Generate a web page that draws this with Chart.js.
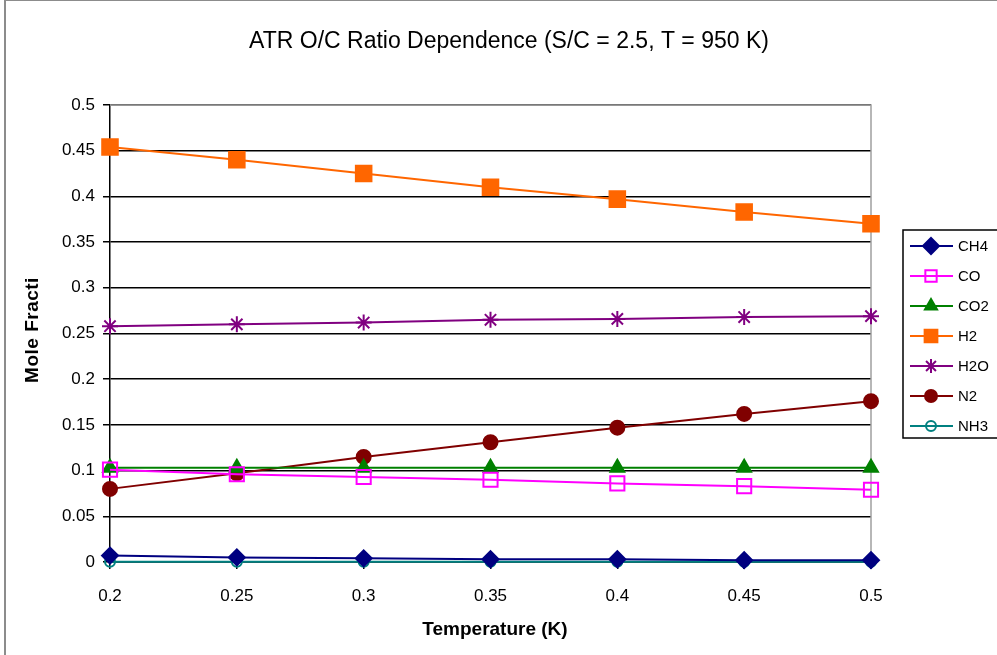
<!DOCTYPE html>
<html>
<head>
<meta charset="utf-8">
<script src="https://cdn.jsdelivr.net/npm/chart.js@4"></script>
<style>
  html, body { margin: 0; padding: 0; background: #ffffff; }
  #wrap { width: 997px; height: 655px; }
</style>
</head>
<body>
<div id="wrap"><canvas id="chart" width="997" height="655"></canvas></div>
<script>
const ocRatio = [0.2, 0.25, 0.3, 0.35, 0.4, 0.45, 0.5];
const xTickLabels = ["0.2", "0.25", "0.3", "0.35", "0.4", "0.45", "0.5"];
const yTickLabels = ["0", "0.05", "0.1", "0.15", "0.2", "0.25", "0.3", "0.35", "0.4", "0.45", "0.5"];

const species = ["CH4", "CO", "CO2", "H2", "H2O", "N2", "NH3"];
const ch4 = [0.007, 0.005, 0.004, 0.003, 0.003, 0.002, 0.002];
const co = [0.101, 0.096, 0.093, 0.090, 0.086, 0.083, 0.079];
const co2 = [0.103, 0.103, 0.103, 0.103, 0.103, 0.103, 0.103];
const h2 = [0.454, 0.440, 0.425, 0.410, 0.397, 0.383, 0.370];
const h2o = [0.258, 0.260, 0.262, 0.265, 0.266, 0.268, 0.269];
const n2 = [0.080, 0.097, 0.115, 0.131, 0.147, 0.162, 0.176];
const nh3 = [0.0002, 0.0002, 0.0002, 0.0002, 0.0002, 0.0002, 0.0002];

const FONT = "'Liberation Sans', Arial, sans-serif";

function pts(values) {
  return values.map((v, i) => ({ x: ocRatio[i], y: v }));
}

// r = point radius on the plot, lr = radius in the legend
const seriesStyle = [
  { data: ch4, color: "#000080", fill: "#000080", style: "rectRot", r: 8, lr: 8 },
  { data: co, color: "#ff00ff", fill: "rgba(255,255,255,0)", style: "rect", r: 10, lr: 8 },
  { data: co2, color: "#008000", fill: "#008000", style: "triangle", r: 8, lr: 7 },
  { data: h2, color: "#ff6600", fill: "#ff6600", style: "rect", r: 11, lr: 9 },
  { data: h2o, color: "#800080", fill: "#800080", style: "star", r: 8, lr: 7 },
  { data: n2, color: "#800000", fill: "#800000", style: "circle", r: 7, lr: 6 },
  { data: nh3, color: "#008080", fill: "rgba(255,255,255,0)", style: "circle", r: 5, lr: 5 },
];

const datasets = seriesStyle.map((s, i) => ({
  label: species[i],
  data: pts(s.data),
  borderColor: s.color,
  backgroundColor: s.fill,
  borderWidth: 2,
  pointStyle: s.style,
  pointRadius: s.r,
  legendRadius: s.lr,
  pointBorderColor: s.color,
  pointBackgroundColor: s.fill,
  pointBorderWidth: 2,
  tension: 0,
  clip: false,
}));

// frame, plot border, titles and legend drawn around the chart area
const decor = {
  id: "decor",
  beforeDatasetsDraw(chart) {
    const ctx = chart.ctx;
    const a = chart.chartArea;
    ctx.save();
    // plot border top / right
    ctx.strokeStyle = "#a0a0a0";
    ctx.lineWidth = 1.5;
    ctx.beginPath();
    ctx.moveTo(a.left, a.top);
    ctx.lineTo(a.right, a.top);
    ctx.lineTo(a.right, a.bottom);
    ctx.stroke();
    ctx.restore();
  },
  afterDraw(chart) {
    const ctx = chart.ctx;
    ctx.save();
    // outer frame
    ctx.strokeStyle = "#8c8c8c";
    ctx.lineWidth = 2;
    ctx.strokeRect(5, 0, 1000, 700);

    ctx.fillStyle = "#000";
    ctx.textAlign = "center";
    ctx.textBaseline = "middle";
    ctx.font = "23px " + FONT;
    ctx.fillText("ATR O/C Ratio Dependence (S/C = 2.5, T = 950 K)", 509, 42);

    ctx.font = "bold 19px " + FONT;
    ctx.fillText("Temperature (K)", 495, 630);
    ctx.save();
    ctx.translate(33, 330);
    ctx.rotate(-Math.PI / 2);
    ctx.letterSpacing = "0.5px";
    ctx.fillText("Mole Fracti", 0, 0);
    ctx.restore();

    // legend
    const lx = 903, ly = 230, lw = 95, lh = 208;
    ctx.strokeStyle = "#000";
    ctx.lineWidth = 1.5;
    ctx.strokeRect(lx, ly, lw, lh);
    ctx.font = "15px " + FONT;
    ctx.textAlign = "left";
    chart.data.datasets.forEach((ds, i) => {
      const y = ly + 16 + i * 30;
      ctx.strokeStyle = ds.borderColor;
      ctx.lineWidth = 2;
      ctx.beginPath();
      ctx.moveTo(lx + 7, y);
      ctx.lineTo(lx + 50, y);
      ctx.stroke();
      ctx.fillStyle = ds.pointBackgroundColor;
      ctx.strokeStyle = ds.pointBorderColor;
      ctx.lineWidth = 2;
      Chart.helpers.drawPoint(ctx, { pointStyle: ds.pointStyle, radius: ds.legendRadius, borderWidth: 2 }, lx + 28, y);
      ctx.fillStyle = "#000";
      ctx.fillText(ds.label, lx + 55, y + 1);
    });
    ctx.restore();
  },
};

new Chart(document.getElementById("chart"), {
  type: "line",
  data: { datasets: datasets },
  plugins: [decor],
  options: {
    responsive: false,
    animation: false,
    layout: { padding: { top: 105, right: 126, left: 0, bottom: 0 } },
    plugins: {
      legend: { display: false },
      tooltip: { enabled: false },
    },
    scales: {
      x: {
        type: "linear",
        min: 0.2,
        max: 0.5,
        afterBuildTicks: (scale) => { scale.ticks = ocRatio.map((v) => ({ value: v })); },
        afterFit: (scale) => { scale.height = 93; },
        ticks: {
          color: "#000",
          font: { family: FONT, size: 17 },
          padding: 17,
          maxRotation: 0,
          callback: (v, i) => xTickLabels[i],
        },
        grid: { drawOnChartArea: false, color: "#000", tickLength: 7, lineWidth: 1.5 },
        border: { color: "#000", width: 1.5 },
      },
      y: {
        min: 0,
        max: 0.5,
        afterBuildTicks: (scale) => { scale.ticks = yTickLabels.map((t) => ({ value: parseFloat(t) })); },
        afterFit: (scale) => { scale.width = 110; },
        ticks: {
          color: "#000",
          font: { family: FONT, size: 17 },
          padding: 8,
          callback: (v, i) => yTickLabels[i],
        },
        grid: { color: "#000", tickLength: 7, lineWidth: 1.5 },
        border: { color: "#000", width: 1.5 },
      },
    },
  },
});
</script>
</body>
</html>
